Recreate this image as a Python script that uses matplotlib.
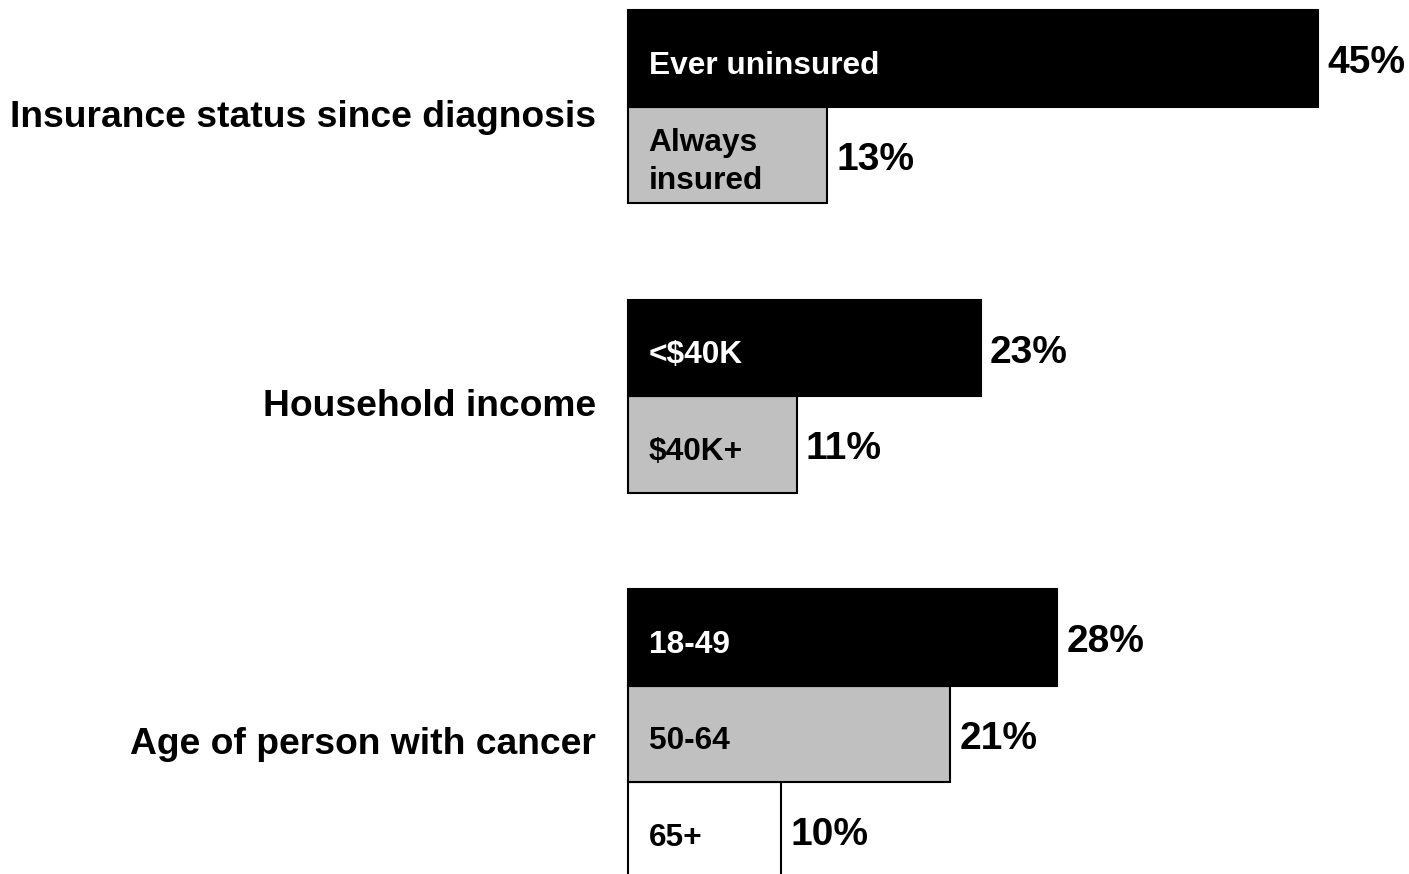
import matplotlib.pyplot as plt

plt.rcParams['font.family'] = ['Liberation Sans', 'DejaVu Sans']

# data
group_labels = ['Insurance status since diagnosis', 'Household income', 'Age of person with cancer']
insurance_cats = ['Ever uninsured', 'Always\ninsured']
insurance_vals = [45, 13]
income_cats = ['<$40K', '$40K+']
income_vals = [23, 11]
age_cats = ['18-49', '50-64', '65+']
age_vals = [28, 21, 10]

groups = [(insurance_cats, insurance_vals),
          (income_cats, income_vals),
          (age_cats, age_vals)]

bar_colors = ['#000000', '#c0c0c0', '#ffffff']
text_colors = ['white', 'black', 'black']
group_start = [0, 3, 6]

fig = plt.figure(figsize=(14.09, 8.74), dpi=100)
ax = fig.add_axes([0, 0, 1, 1])

px_per_pct = 690 / 45.0
row_px = 96.5
ax.set_xlim(-628 / px_per_pct, (1409 - 628) / px_per_pct)
ax.set_ylim(864 / row_px, -10 / row_px)
ax.axis('off')

for g, (cats, vals) in enumerate(groups):
    start = group_start[g]
    for i, (cat, val) in enumerate(zip(cats, vals)):
        y = start + i + 0.5
        ax.barh(y, val, height=1.0, color=bar_colors[i], edgecolor='black',
                linewidth=1.5, zorder=2 - i * 0.1)
        ax.text(1.35, y + 0.08, cat, color=text_colors[i], fontsize=22.8,
                fontweight='bold', ha='left', va='center', linespacing=1.35)
        ax.text(val + 0.6, y + 0.05, f'{val}%', fontsize=28, fontweight='bold',
                ha='left', va='center')
    mid = start + len(cats) / 2.0
    ax.text(-2.1, mid + 0.11, group_labels[g], fontsize=26.8, fontweight='bold',
            ha='right', va='center')

fig.savefig('out.png', dpi=100)
